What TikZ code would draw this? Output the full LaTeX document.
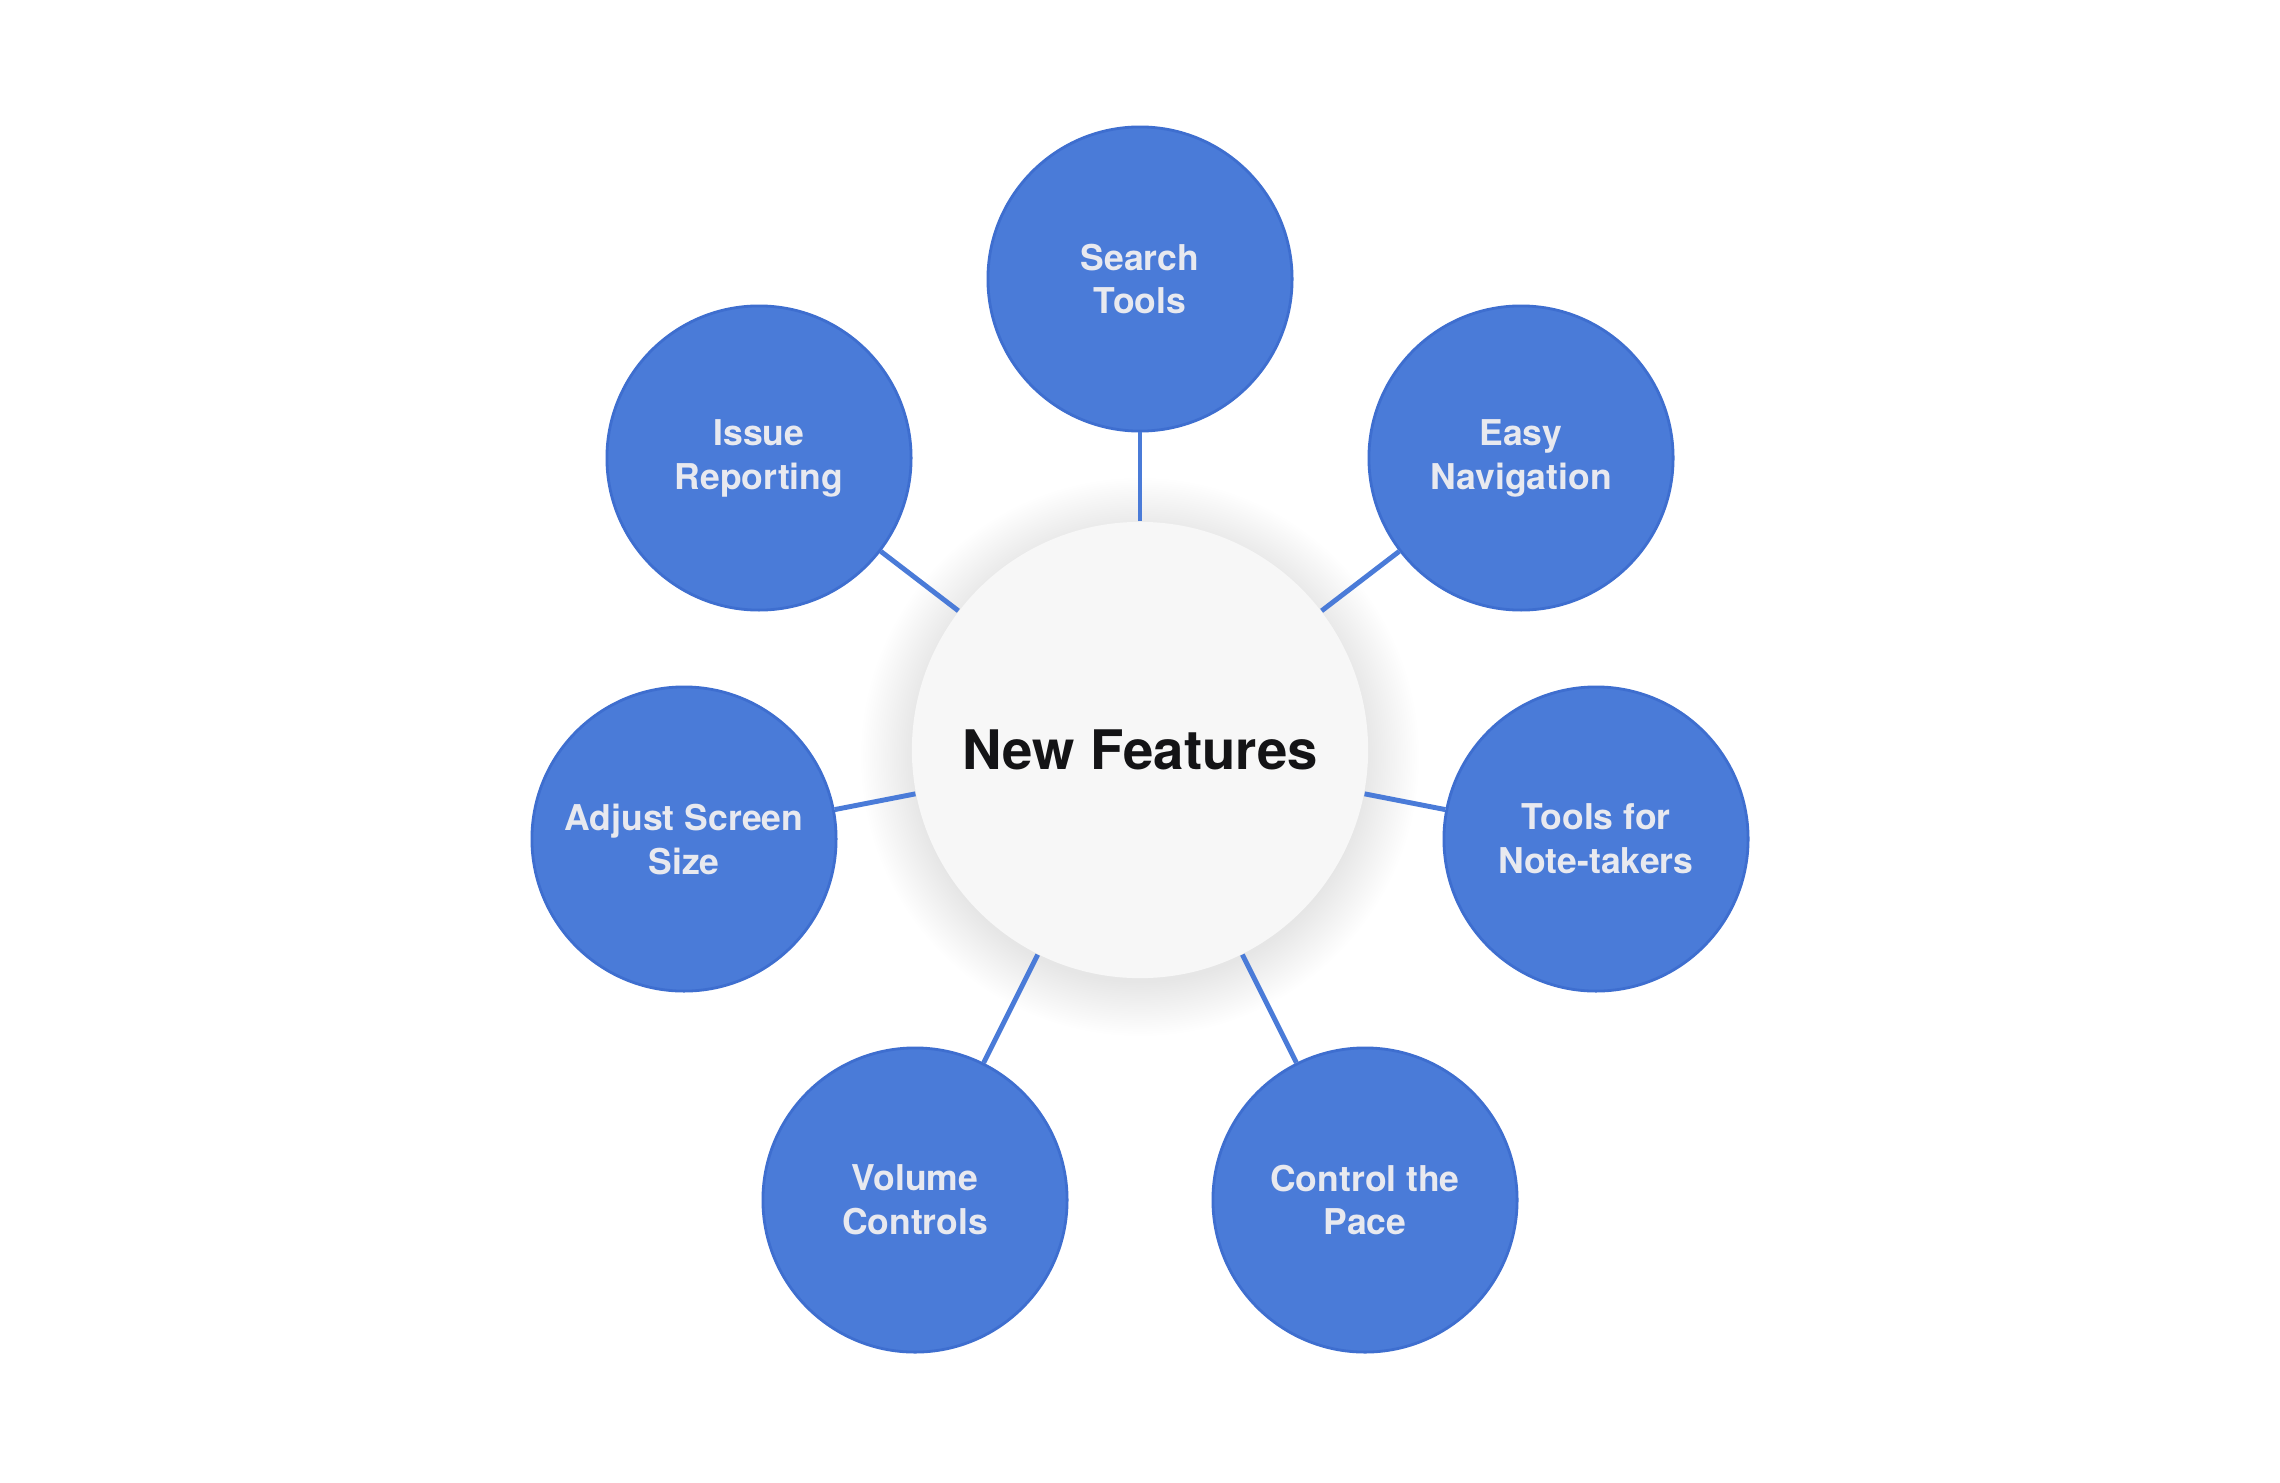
\documentclass[tikz,border=0pt]{standalone}
\usepackage{fontspec}
\setmainfont{TeX Gyre Heros}
\definecolor{bluefill}{HTML}{4A7BD8}
\definecolor{blueedge}{HTML}{3E6ECF}
\definecolor{labeltxt}{HTML}{E8E9EF}
\definecolor{hubfill}{HTML}{F7F7F7}
\definecolor{hubtxt}{HTML}{141416}
\definecolor{linkcol}{HTML}{4A7BD8}
\tikzset{
  feature/.style={circle, minimum size=3.04cm, inner sep=0pt, fill=bluefill,
    draw=blueedge, line width=0.8pt, text=labeltxt, align=center,
    font=\fontsize{10.1pt}{12.5pt}\selectfont\bfseries},
  hub/.style={circle, minimum size=4.56cm, inner sep=0pt, fill=hubfill,
    text=hubtxt, font=\fontsize{15.5pt}{18pt}\selectfont\bfseries},
  shadowring/.style={fill=black, opacity=0.0055},
  link/.style={draw=linkcol, line width=1.4pt}
}
\begin{document}
\begin{tikzpicture}[x=0.01cm, y=-0.01cm]
  \fill[white] (0,0) rectangle (2280,1482);
  \useasboundingbox (0,0) rectangle (2280,1482);
  \coordinate (shc) at (1140,757);
  \foreach \r in {0,...,24}
    \fill[shadowring] (shc) circle[radius={2.26cm+\r*0.022cm}];
  \node[hub] (hub) at (1140,750) {New Features};
  \node[feature] (search) at (1140,279) {Search\\Tools};
  \node[feature] (issue) at (759,458) {Issue\\Reporting};
  \node[feature] (easy) at (1521,458) {Easy\\Navigation};
  \node[feature] (adjust) at (684,839) {Adjust Screen\\Size};
  \node[feature] (notes) at (1596,839) {Tools for\\Note-takers};
  \node[feature] (volume) at (915,1200) {Volume\\Controls};
  \node[feature] (pace) at (1365,1200) {Control the\\Pace};
  \foreach \n in {search,issue,easy,adjust,notes,volume,pace}
    \draw[link] (hub) -- (\n);
\end{tikzpicture}
\end{document}
